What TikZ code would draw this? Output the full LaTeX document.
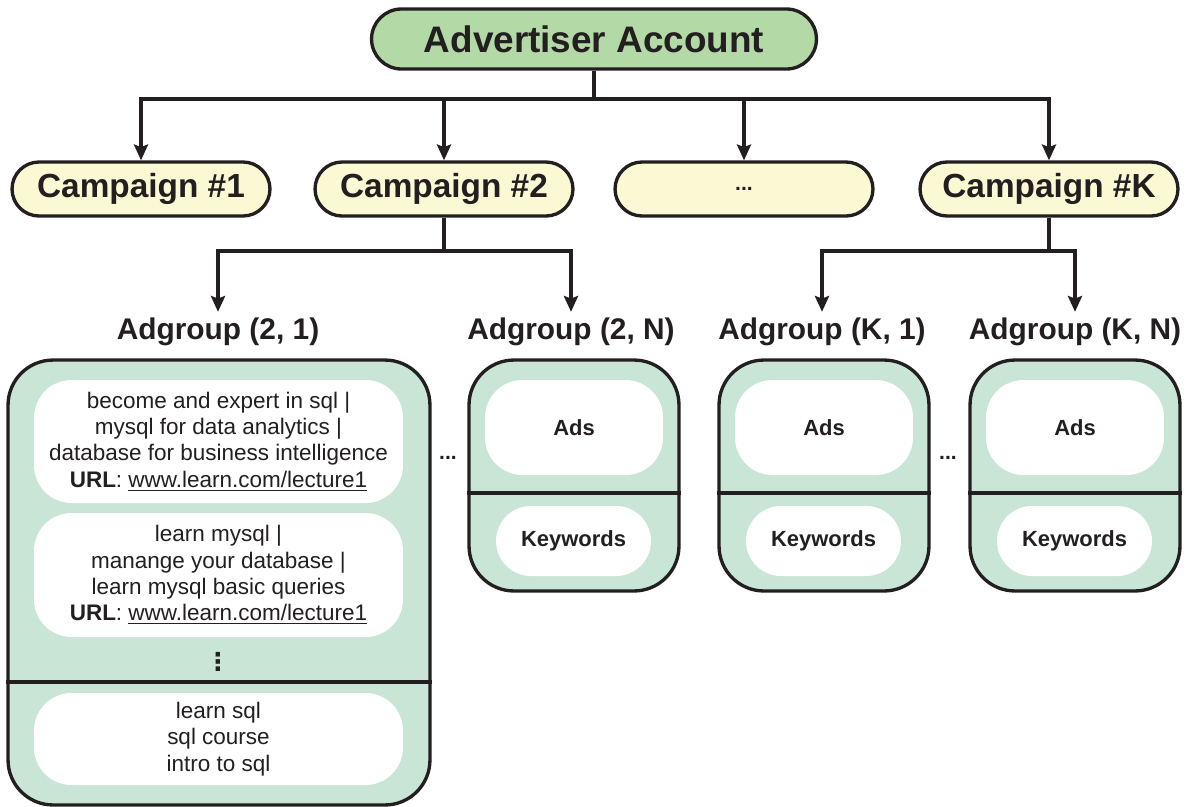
\documentclass[tikz,border=0pt]{standalone}
\usepackage{fontspec}
\setmainfont{Liberation Sans}
\newfontfamily\symfont{DejaVu Sans}
\usetikzlibrary{arrows.meta,positioning,calc}
\definecolor{accountgreen}{RGB}{178,217,166}
\definecolor{campaignyellow}{RGB}{251,248,212}
\definecolor{groupmint}{RGB}{201,229,214}
\definecolor{inkgray}{RGB}{35,31,32}

\tikzset{
  account/.style={draw=inkgray, line width=1.9pt, fill=accountgreen, rounded corners=0.6cm,
    minimum width=8.9cm, minimum height=1.2cm, text=inkgray,
    font=\fontsize{21}{25}\selectfont\bfseries},
  campaign/.style={draw=inkgray, line width=1.9pt, fill=campaignyellow, rounded corners=0.54cm,
    minimum width=5.16cm, minimum height=1.08cm, text=inkgray,
    font=\fontsize{19}{23}\selectfont\bfseries},
  grouptitle/.style={text=inkgray, font=\fontsize{17}{20}\selectfont\bfseries},
  groupbox/.style={draw=inkgray, line width=1.9pt, fill=groupmint, rounded corners=0.9cm},
  whitebox/.style={fill=white, rounded corners=0.75cm, text=inkgray, align=center,
    font=\fontsize{12.8}{15}\selectfont},
  boldbox/.style={whitebox, font=\fontsize{12.5}{15}\selectfont\bfseries},
  divider/.style={draw=inkgray, line width=1.9pt},
  link/.style={draw=inkgray, line width=1.9pt},
  arr/.style={link, -{Stealth[length=9pt,width=8pt,inset=1.5pt]}},
  moredots/.style={text=inkgray, font=\fontsize{12}{14}\selectfont\bfseries},
}

\begin{document}
\begin{tikzpicture}[x=0.02cm, y=-0.02cm]
  \useasboundingbox (0,0) rectangle (1190,806);

  % account and campaigns
  \node[account] (acct) at (594,39) {Advertiser Account};
  \node[campaign] (camp1) at (141,189) {Campaign \#1};
  \node[campaign] (camp2) at (444,189) {Campaign \#2};
  \node[campaign] (campdots) at (744,189) {\fontsize{12}{14}\selectfont ...};
  \node[campaign] (campK) at (1049,189) {Campaign \#K};

  % adgroup (2, 1) with its ads and keywords
  \node[grouptitle] (g21-t) at (218,332) {Adgroup (2, 1)};
  \node[groupbox, minimum width=8.44cm, minimum height=8.9cm] (g21) at (219,582.5) {};
  \node[whitebox, minimum width=7.38cm, minimum height=2.46cm] (g21-ad1) at (218.5,441.5)
    {become and expert in sql |\\ mysql for data analytics |\\ database for business intelligence\\
     \textbf{URL}: \underline{www.learn.com/lecture1}};
  \node[whitebox, minimum width=7.38cm, minimum height=2.48cm] (g21-ad2) at (218.5,575)
    {learn mysql |\\ manange your database |\\ learn mysql basic queries\\
     \textbf{URL}: \underline{www.learn.com/lecture1}};
  \node[text=inkgray, font=\fontsize{14}{16}\selectfont\symfont\bfseries] (g21-more) at (218,662) {⋮};
  \draw[divider] (g21.west |- 0,682) -- (g21.east |- 0,682);
  \node[whitebox, minimum width=7.38cm, minimum height=1.84cm] (g21-kw) at (218.5,739)
    {learn sql\\ sql course\\ intro to sql};

  % the other adgroups
  \foreach \name/\x/\tx/\lbl in {g2N/574/571/{(2, N)}, gK1/824/822/{(K, 1)}, gKN/1075/1075/{(K, N)}} {
    \node[grouptitle] (\name-t) at (\tx,332) {Adgroup \lbl};
    \node[groupbox, minimum width=4.2cm, minimum height=4.62cm] (\name) at (\x,475.5) {};
    \node[boldbox, minimum width=3.56cm, minimum height=1.9cm] (\name-ads) at (\x,427.5) {Ads};
    \draw[divider] (\name.west |- 0,493) -- (\name.east |- 0,493);
    \node[boldbox, rounded corners=0.7cm, minimum width=3.1cm, minimum height=1.4cm] (\name-kw) at (\x-0.5,541) {Keywords};
  }
  \node[moredots] (dots2) at (448,458) {...};
  \node[moredots] (dotsK) at (948,458) {...};

  % connectors
  \coordinate (bus) at (594,99);
  \foreach \c in {camp1,camp2,campdots,campK}
    \draw[arr] (acct.south) -- (bus) -| (\c.north);
  \coordinate (split2) at (444,251);
  \foreach \g in {g21-t,g2N-t}
    \draw[arr] (camp2.south) -- (split2) -| (\g.north);
  \coordinate (splitK) at (1049,251);
  \foreach \g in {gK1-t,gKN-t}
    \draw[arr] (campK.south) -- (splitK) -| (\g.north);
\end{tikzpicture}
\end{document}
